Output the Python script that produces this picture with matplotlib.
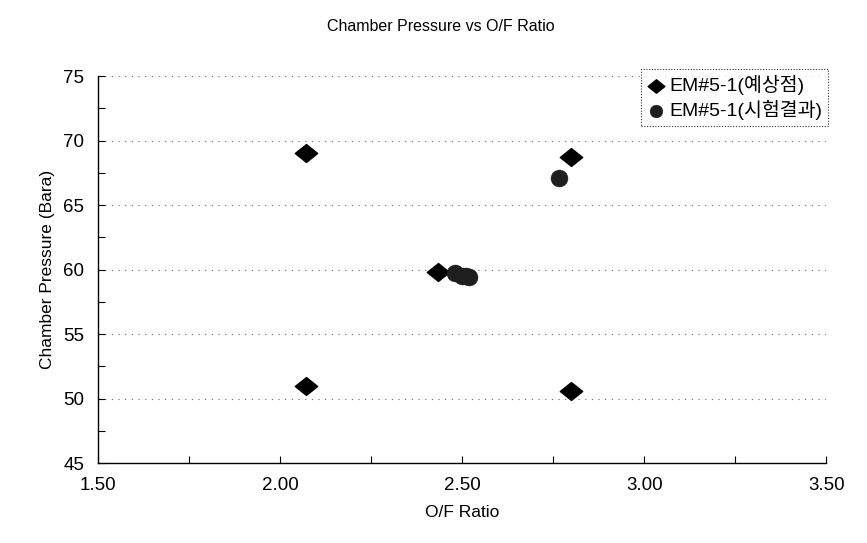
import matplotlib
matplotlib.use("Agg")
import matplotlib.pyplot as plt
from matplotlib.ticker import MultipleLocator
from matplotlib.path import Path

plt.rcParams['font.family'] = ['Liberation Sans', 'Noto Sans CJK KR', 'DejaVu Sans']

# Data
pred_of = [2.07, 2.80, 2.435, 2.07, 2.80]
pred_pc = [69.0, 68.7, 59.8, 51.0, 50.6]

test_of = [2.765, 2.48, 2.50, 2.51, 2.52]
test_pc = [67.1, 59.7, 59.5, 59.5, 59.4]

pred_label = "EM#5-1(예상점)"
test_label = "EM#5-1(시험결과)"
title = "Chamber Pressure vs O/F Ratio"
xlabel = "O/F Ratio"
ylabel = "Chamber Pressure (Bara)"
xticks = [1.50, 2.00, 2.50, 3.00, 3.50]
xtick_labels = ["1.50", "2.00", "2.50", "3.00", "3.50"]
yticks = [45, 50, 55, 60, 65, 70, 75]

wide_diamond = Path([(-1, 0), (0, 0.8), (1, 0), (0, -0.8), (-1, 0)],
                    [Path.MOVETO, Path.LINETO, Path.LINETO, Path.LINETO,
                     Path.CLOSEPOLY])

fig = plt.figure(figsize=(8.67, 5.43), dpi=100)
ax = fig.add_axes([0.113, 0.147, 0.840, 0.713])

ax.scatter(pred_of, pred_pc, marker=wide_diamond, s=260, color='black',
           zorder=3, label=pred_label)
ax.scatter(test_of, test_pc, marker='o', s=150, facecolor='#1e1e1e',
           edgecolor='#1e1e1e', linewidths=0.3, zorder=3,
           label=test_label)

ax.set_xlim(1.5, 3.5)
ax.set_ylim(45, 75)
ax.set_xticks(xticks)
ax.set_xticklabels(xtick_labels)
ax.set_yticks(yticks)
ax.xaxis.set_minor_locator(MultipleLocator(0.25))
ax.yaxis.set_minor_locator(MultipleLocator(2.5))

ax.tick_params(axis='both', which='both', direction='in', length=5, width=0.8,
               labelsize=13.5, pad=10)

for s in ['top', 'right']:
    ax.spines[s].set_visible(False)
for s in ['left', 'bottom']:
    ax.spines[s].set_linewidth(1.0)

ax.yaxis.grid(True, which='major', linestyle=(0, (1, 5)), color='#666666',
              linewidth=0.8)
ax.set_axisbelow(True)

ax.set_xlabel(xlabel, fontsize=12.5, labelpad=8)
ax.set_ylabel(ylabel, fontsize=12.5, labelpad=6)
fig.suptitle(title, fontsize=11.5, x=0.508, y=0.965)

leg = ax.legend(loc='upper left', bbox_to_anchor=(0.739, 0.873),
                bbox_transform=fig.transFigure, frameon=True, fancybox=False,
                fontsize=14, handletextpad=0.15, handlelength=1.0,
                borderpad=0.3, labelspacing=0.25, borderaxespad=0,
                markerscale=0.75)
leg.get_frame().set_edgecolor('black')
leg.get_frame().set_linestyle((0, (1, 1.5)))
leg.get_frame().set_linewidth(0.8)

fig.savefig("out.png", dpi=100)
